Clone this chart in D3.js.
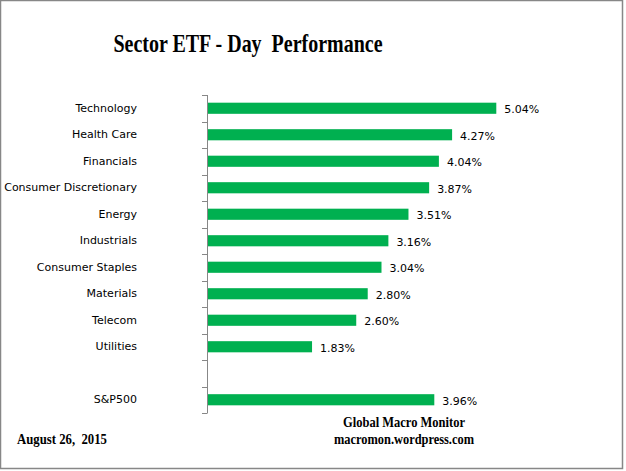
<!DOCTYPE html>
<html>
<head>
<meta charset="utf-8">
<script src="https://cdn.jsdelivr.net/npm/d3@7"></script>
<style>
  body { margin: 0; background: #fff; }
  svg { display: block; }
</style>
</head>
<body>
<svg id="chart"></svg>
<script>
const canWidth = 626;
const canHeight = 471;

// data ("" is the empty row before the index)
const sectors = ["Technology", "Health Care", "Financials", "Consumer Discretionary", "Energy",
                 "Industrials", "Consumer Staples", "Materials", "Telecom", "Utilities", "", "S&P500"];
const changes = [5.04, 4.27, 4.04, 3.87, 3.51, 3.16, 3.04, 2.80, 2.60, 1.83, null, 3.96];
const titleText = "Sector ETF - Day  Performance";
const dateText = "August 26,  2015";
const creditLines = ["Global Macro Monitor", "macromon.wordpress.com"];

const axisX = 207;
const plotTop = 95;
const plotBottom = 413;

const xs = d3.scaleLinear().domain([0, 6]).range([axisX, axisX + 6 * 57.4]);
const ys = d3.scaleBand().domain(sectors).range([plotTop, plotBottom])
    .paddingInner(0.58).paddingOuter(0.29);

const svg = d3.select('#chart').attr('width', canWidth).attr('height', canHeight);

// outer frame
svg.append('rect')
    .attr('x', 0.5).attr('y', 0.5)
    .attr('width', canWidth - 4).attr('height', canHeight - 3)
    .attr('fill', 'none').attr('stroke', '#878787').attr('stroke-width', 1.5);

const serif = '"Liberation Serif", "Times New Roman", serif';

// the picture's serif text is squeezed sideways, so fit it to the measured widths
svg.append('text')
    .attr('x', 248).attr('y', 52)
    .attr('text-anchor', 'middle')
    .attr('textLength', 269).attr('lengthAdjust', 'spacingAndGlyphs')
    .style('font-family', serif)
    .style('font-weight', 'bold').style('font-size', '25px')
    .style('white-space', 'pre')
    .text(titleText);

const rows = sectors.map((s, i) => ({ name: s, value: changes[i] })).filter(d => d.value !== null);

svg.append('g').selectAll('rect')
    .data(rows)
    .enter()
    .append('rect')
    .attr('x', xs(0))
    .attr('y', d => ys(d.name))
    .attr('width', d => xs(d.value) - xs(0))
    .attr('height', ys.bandwidth())
    .attr('fill', '#00b050');

svg.append('g').selectAll('text')
    .data(rows)
    .enter()
    .append('text')
    .attr('x', d => xs(d.value) + 8)
    .attr('y', d => ys(d.name) + ys.bandwidth() / 2 + 1)
    .attr('dy', '0.35em')
    .style('font-family', '"DejaVu Sans", Verdana, sans-serif')
    .style('font-size', '11px')
    .text(d => d.value.toFixed(2) + '%');

// category labels
const ya = d3.axisLeft(ys).tickSize(0).tickPadding(70);
const yg = svg.append('g')
    .attr('transform', `translate(${axisX}, 0)`)
    .call(ya);
yg.select('.domain').remove();
yg.selectAll('text')
    .style('font-family', '"DejaVu Sans", Verdana, sans-serif')
    .style('font-size', '11px')
    .attr('fill', '#000');

// axis line + ticks on the row boundaries
const step = ys.step();
const bounds = d3.range(sectors.length + 1).map(i => plotTop + i * step);
svg.append('line')
    .attr('x1', axisX + 0.5).attr('x2', axisX + 0.5)
    .attr('y1', plotTop).attr('y2', plotBottom)
    .attr('stroke', '#878787');
svg.append('g').selectAll('line')
    .data(bounds)
    .enter()
    .append('line')
    .attr('x1', axisX - 5).attr('x2', axisX + 0.5)
    .attr('y1', d => Math.round(d) + 0.5).attr('y2', d => Math.round(d) + 0.5)
    .attr('stroke', '#878787');

svg.append('text')
    .attr('x', 17).attr('y', 444)
    .attr('textLength', 90).attr('lengthAdjust', 'spacingAndGlyphs')
    .style('font-family', serif).style('font-weight', 'bold').style('font-size', '14px')
    .style('white-space', 'pre')
    .text(dateText);

const creditWidths = [122, 140];
svg.append('g').selectAll('text')
    .data(creditLines)
    .enter()
    .append('text')
    .attr('x', 404)
    .attr('y', (d, i) => 427 + i * 17)
    .attr('text-anchor', 'middle')
    .attr('textLength', (d, i) => creditWidths[i]).attr('lengthAdjust', 'spacingAndGlyphs')
    .style('font-family', serif).style('font-weight', 'bold').style('font-size', '14px')
    .text(d => d);
</script>
</body>
</html>
